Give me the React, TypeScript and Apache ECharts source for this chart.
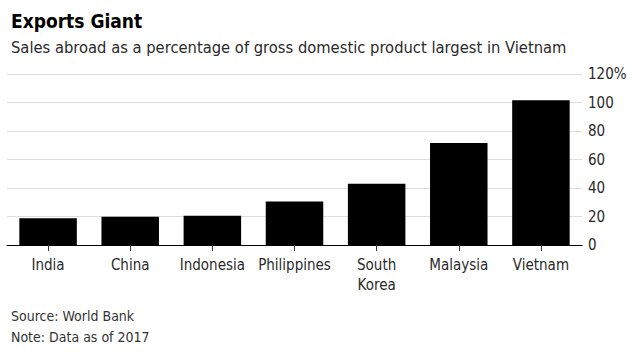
import React, { useEffect, useRef } from "react";
import * as echarts from "echarts";

const categories = ["India", "China", "Indonesia", "Philippines", "South\nKorea", "Malaysia", "Vietnam"];
const values = [18.8, 19.8, 20.5, 30.5, 43.0, 71.5, 101.6];
const yTicks = [0, 20, 40, 60, 80, 100, 120];

const FONT = "'DejaVu Sans Condensed', 'Liberation Sans', Arial, sans-serif";

export default function App() {
  const ref = useRef<HTMLDivElement>(null);
  useEffect(() => {
    if (!ref.current) return;
    const chart = echarts.init(ref.current, undefined, { renderer: "svg" });
    chart.setOption({
      animation: false,
      backgroundColor: "#ffffff",
      textStyle: { fontFamily: FONT },
      title: [
        {
          text: "Exports Giant",
          left: 6,
          top: 6,
          textStyle: { fontFamily: FONT, fontSize: 19, fontWeight: "bold", color: "#000" },
        },
        {
          text: "Sales abroad as a percentage of gross domestic product largest in Vietnam",
          left: 6,
          top: 34,
          textStyle: { fontFamily: FONT, fontSize: 16.4, fontWeight: "normal", color: "#2a2a2a" },
        },
        {
          text: "Source: World Bank",
          left: 6,
          top: 304,
          textStyle: { fontFamily: FONT, fontSize: 14, fontWeight: "normal", color: "#333" },
        },
        {
          text: "Note: Data as of 2017",
          left: 6,
          top: 325,
          textStyle: { fontFamily: FONT, fontSize: 14, fontWeight: "normal", color: "#333" },
        },
      ],
      grid: { left: 7, right: 50, top: 74, bottom: 107, containLabel: false },
      xAxis: {
        type: "category",
        data: categories,
        axisLine: { show: true, lineStyle: { color: "#000", width: 1 } },
        axisTick: { show: true, alignWithLabel: true, length: 6, lineStyle: { color: "#333" } },
        axisLabel: { color: "#2a2a2a", fontSize: 15, fontFamily: FONT, margin: 10, lineHeight: 20, interval: 0 },
      },
      yAxis: {
        type: "value",
        position: "right",
        min: 0,
        max: 120,
        interval: 20,
        axisLine: { show: false },
        axisTick: { show: false },
        splitLine: { show: true, lineStyle: { color: "#dddddd", width: 1 } },
        axisLabel: {
          color: "#2a2a2a",
          fontSize: 15,
          fontFamily: FONT,
          margin: 6,
          formatter: (v: number) => (v === yTicks[yTicks.length - 1] ? `${v}%` : `${v}`),
        },
      },
      series: [
        {
          type: "bar",
          data: values,
          barWidth: "70%",
          itemStyle: { color: "#000" },
        },
      ],
    });
    return () => chart.dispose();
  }, []);
  return <div ref={ref} style={{ width: 632, height: 352, position: "absolute", left: 0, top: 0 }} />;
}
